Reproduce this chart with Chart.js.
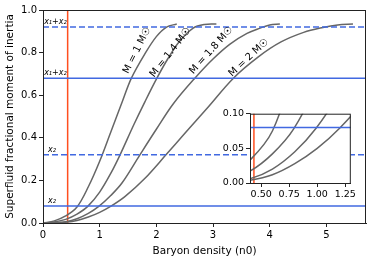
<!DOCTYPE html>
<html>
<head>
<meta charset="utf-8">
<script src="https://cdn.jsdelivr.net/npm/chart.js@4.4.0/dist/chart.umd.min.js"></script>
<style>
body { margin: 0; background: #fff; }
#wrap { position: relative; width: 374px; height: 262px; }
#main { position: absolute; left: 0; top: 0; }
#inset { position: absolute; left: 212px; top: 106px; }
</style>
</head>
<body>
<div id="wrap">
<canvas id="main" width="374" height="262"></canvas>
<canvas id="inset" width="146" height="96"></canvas>
</div>
<script>
// curve labels
const massLabels = ['M = 1 M\u2609', 'M = 1.4 M\u2609', 'M = 1.8 M\u2609', 'M = 2 M\u2609'];

// baryon density (n0) and superfluid fraction
const densM1 = [0, 0.2, 0.4, 0.6, 0.8, 1.0, 1.2, 1.4, 1.56, 1.8, 2.0, 2.18, 2.36];
const fracM1 = [0, 0.01, 0.033, 0.075, 0.17, 0.29, 0.43, 0.57, 0.68, 0.795, 0.875, 0.92, 0.934];

const densM14 = [0, 0.2, 0.4, 0.6, 0.79, 1.0, 1.2, 1.36, 1.6, 1.8, 2.01, 2.2, 2.4, 2.65, 2.85, 3.06];
const fracM14 = [0, 0.005, 0.017, 0.042, 0.078, 0.145, 0.235, 0.32, 0.46, 0.57, 0.68, 0.77, 0.85, 0.915, 0.932, 0.934];

const densM18 = [0, 0.2, 0.4, 0.6, 0.8, 0.99, 1.2, 1.4, 1.71, 2.0, 2.3, 2.68, 3.0, 3.3, 3.6, 3.83, 4.0, 4.18];
const fracM18 = [0, 0.002, 0.006, 0.02, 0.045, 0.079, 0.13, 0.19, 0.32, 0.44, 0.56, 0.68, 0.77, 0.84, 0.89, 0.915, 0.93, 0.934];

const densM2 = [0, 0.2, 0.4, 0.6, 0.8, 1.0, 1.2, 1.45, 1.8, 2.17, 2.5, 2.9, 3.36, 3.8, 4.2, 4.6, 4.94, 5.2, 5.47];
const fracM2 = [0, 0.001, 0.004, 0.012, 0.028, 0.05, 0.079, 0.125, 0.21, 0.32, 0.42, 0.54, 0.68, 0.78, 0.85, 0.895, 0.918, 0.93, 0.934];

// horizontal reference levels
const levelValues = [0.92, 0.68, 0.32, 0.08];
const levelDashed = [true, false, true, false];
const levelLabels = ['x\u2081+x\u2082', 'x\u2081+x\u2082', 'x\u2082', 'x\u2082'];

// vertical marker density
const markerDensity = 0.435;

// where the curve labels sit (data units) and their angle
const labelDens = [1.66, 2.25, 2.97, 3.63];
const labelFrac = [0.81, 0.80, 0.81, 0.775];
const labelAngle = [-63, -52, -48, -43];

const xMax = 5.7;
const FONT = "'DejaVu Sans', sans-serif";

function pts(xs, ys) {
    return xs.map((x, i) => ({x: x, y: ys[i]}));
}

const curves = [pts(densM1, fracM1), pts(densM14, fracM14), pts(densM18, fracM18), pts(densM2, fracM2)];

function buildDatasets(x0, x1) {
    const ds = [];
    levelValues.forEach((v, i) => {
        ds.push({
            data: [{x: x0, y: v}, {x: x1, y: v}],
            borderColor: '#4169e1',
            borderWidth: 1.5,
            borderDash: levelDashed[i] ? [6, 3] : [],
            pointRadius: 0
        });
    });
    curves.forEach(c => {
        ds.push({
            data: c,
            borderColor: '#666666',
            borderWidth: 1.5,
            pointRadius: 0,
            tension: 0.35
        });
    });
    ds.push({
        data: [{x: markerDensity, y: -1}, {x: markerDensity, y: 2}],
        borderColor: '#ff4f1f',
        borderWidth: 1.5,
        pointRadius: 0
    });
    return ds;
}

// full box around the plot area
const boxPlugin = {
    id: 'box',
    beforeDatasetsDraw(chart, args, opts) {
        if (opts.fill) {
            const a = chart.chartArea;
            chart.ctx.save();
            chart.ctx.fillStyle = '#fff';
            chart.ctx.fillRect(a.left, a.top, a.right - a.left, a.bottom - a.top);
            chart.ctx.restore();
        }
    },
    afterDraw(chart) {
        const a = chart.chartArea;
        const ctx = chart.ctx;
        ctx.save();
        ctx.strokeStyle = '#222';
        ctx.lineWidth = 1;
        ctx.strokeRect(a.left + 0.5, a.top + 0.5, a.right - a.left - 1, a.bottom - a.top);
        ctx.restore();
    }
};

// text annotations on the main plot
const textPlugin = {
    id: 'texts',
    afterDatasetsDraw(chart) {
        const ctx = chart.ctx;
        const xs = chart.scales.x, ys = chart.scales.y;
        ctx.save();
        ctx.fillStyle = '#000';
        ctx.font = 'italic 8px ' + FONT;
        ctx.textBaseline = 'bottom';
        ctx.textAlign = 'left';
        levelLabels.forEach((t, i) => {
            const px = xs.getPixelForValue(t.length > 2 ? 0.02 : 0.09);
            ctx.fillText(t, px, ys.getPixelForValue(levelValues[i]) - 1);
        });
        ctx.font = '10px ' + FONT;
        ctx.textAlign = 'center';
        ctx.textBaseline = 'middle';
        massLabels.forEach((t, i) => {
            ctx.save();
            ctx.translate(xs.getPixelForValue(labelDens[i]), ys.getPixelForValue(labelFrac[i]));
            ctx.rotate(labelAngle[i] * Math.PI / 180);
            ctx.fillText(t, 0, 0);
            ctx.restore();
        });
        ctx.restore();
    }
};

new Chart(document.getElementById('main'), {
    type: 'line',
    data: {datasets: buildDatasets(0, xMax)},
    options: {
        responsive: false,
        animation: false,
        devicePixelRatio: 1,
        layout: {padding: {top: 10, right: 8, left: 0, bottom: 0}},
        plugins: {legend: {display: false}, tooltip: {enabled: false}, box: {fill: false}},
        scales: {
            x: {
                type: 'linear', min: 0, max: xMax,
                afterFit: s => { s.height = 39; },
                grid: {drawOnChartArea: false, tickLength: 4, color: '#222'},
                border: {color: '#222'},
                ticks: {stepSize: 1, includeBounds: false, color: '#000', padding: 2, maxRotation: 0,
                        font: {family: FONT, size: 10}},
                title: {display: true, text: 'Baryon density (n0)', color: '#000', padding: {top: 1},
                        font: {family: FONT, size: 10.5}}
            },
            y: {
                type: 'linear', min: 0, max: 1,
                afterFit: s => { s.width = 43; },
                grid: {drawOnChartArea: false, tickLength: 4, color: '#222'},
                border: {color: '#222'},
                ticks: {stepSize: 0.2, color: '#000', padding: 2,
                        callback: v => v.toFixed(1), font: {family: FONT, size: 10}},
                title: {display: true, text: 'Superfluid fractional moment of inertia', color: '#000',
                        padding: {bottom: 2}, font: {family: FONT, size: 10.5}}
            }
        }
    },
    plugins: [boxPlugin, textPlugin]
});

new Chart(document.getElementById('inset'), {
    type: 'line',
    data: {datasets: buildDatasets(0.4, 1.3)},
    options: {
        responsive: false,
        animation: false,
        devicePixelRatio: 1,
        layout: {padding: {top: 7, right: 4, left: 0, bottom: 0}},
        plugins: {legend: {display: false}, tooltip: {enabled: false}, box: {fill: true}},
        scales: {
            x: {
                type: 'linear', min: 0.4, max: 1.3,
                afterFit: s => { s.height = 19; },
                grid: {drawOnChartArea: false, tickLength: 4, color: '#222'},
                border: {color: '#222'},
                ticks: {stepSize: 0.25, includeBounds: false, color: '#000', padding: 2, maxRotation: 0,
                        callback: v => v.toFixed(2), font: {family: FONT, size: 9.5}}
            },
            y: {
                type: 'linear', min: 0, max: 0.1,
                afterFit: s => { s.width = 38; },
                grid: {drawOnChartArea: false, tickLength: 4, color: '#222'},
                border: {color: '#222'},
                ticks: {stepSize: 0.05, color: '#000', padding: 2,
                        callback: v => v.toFixed(2), font: {family: FONT, size: 9.5}}
            }
        }
    },
    plugins: [boxPlugin]
});
</script>
</body>
</html>
